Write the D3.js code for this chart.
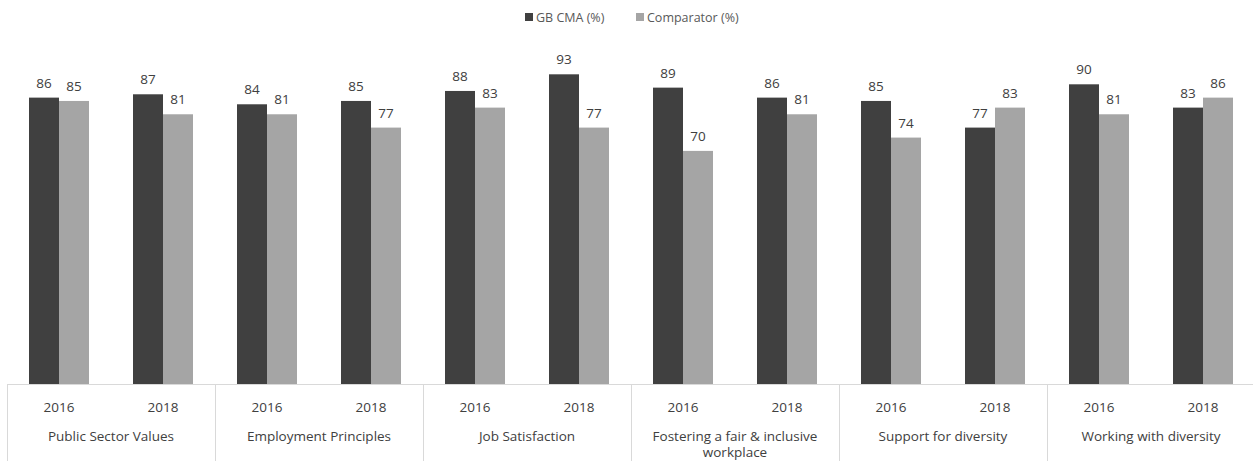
<!DOCTYPE html>
<html>
<head>
<meta charset="utf-8">
<script src="https://cdn.jsdelivr.net/npm/d3@7"></script>
<style>
  html, body { margin: 0; padding: 0; background: #fff; }
  svg { display: block; font-family: "Open Sans", "Liberation Sans", sans-serif; }
</style>
</head>
<body>
<svg id="chart" width="1253" height="461"></svg>
<script>
// Survey themes, each reported for two survey years
const themes = [
  ["Public Sector Values"],
  ["Employment Principles"],
  ["Job Satisfaction"],
  ["Fostering a fair & inclusive", "workplace"],
  ["Support for diversity"],
  ["Working with diversity"]
];
const years = ["2016", "2018"];
const seriesNames = ["GB CMA (%)", "Comparator (%)"];
// Positive response rates, theme by theme, 2016 then 2018
const gbCma      = [86, 87, 84, 85, 88, 93, 89, 86, 85, 77, 90, 83];
const comparator = [85, 81, 81, 77, 83, 77, 70, 81, 74, 83, 81, 86];
const colors = ["#404040", "#a5a5a5"];

const svg = d3.select("#chart");
const plotLeft = 7, baseY = 384, plotTop = 51;

// one slot per theme/year pair
const slots = [];
themes.forEach((t, i) => years.forEach((yr, j) => slots.push({ theme: i, year: yr, idx: i * 2 + j })));

const x = d3.scaleBand().domain(slots.map(d => d.idx)).range([plotLeft, plotLeft + 104 * 12]);
const xInner = d3.scaleBand().domain([0, 1]).range([x.bandwidth() / 2 - 30, x.bandwidth() / 2 + 30]);
const y = d3.scaleLinear().domain([0, 100]).range([baseY, plotTop]);

const series = [gbCma, comparator];

// bars
const g = svg.append("g");
slots.forEach(s => {
  series.forEach((vals, k) => {
    const v = vals[s.idx];
    const bx = x(s.idx) + xInner(k);
    g.append("rect")
      .attr("x", bx)
      .attr("y", y(v))
      .attr("width", xInner.bandwidth())
      .attr("height", y(0) - y(v))
      .attr("fill", colors[k]);
    g.append("text")
      .attr("x", bx + xInner.bandwidth() / 2)
      .attr("y", y(v) - 10)
      .attr("text-anchor", "middle")
      .attr("font-size", 13.5)
      .attr("fill", "#404040")
      .text(v);
  });
});

// category axis: baseline, dividers, year and theme labels
const axisColor = "#d9d9d9";
svg.append("line")
  .attr("x1", plotLeft).attr("x2", 1253)
  .attr("y1", baseY + 0.5).attr("y2", baseY + 0.5)
  .attr("stroke", axisColor).attr("stroke-width", 1);

const groupW = x.bandwidth() * 2;
for (let i = 0; i <= themes.length; i++) {
  const gx = Math.round(plotLeft + i * groupW) + 0.5;
  svg.append("line")
    .attr("x1", gx).attr("x2", gx)
    .attr("y1", baseY).attr("y2", 461)
    .attr("stroke", axisColor).attr("stroke-width", 1);
}

slots.forEach(s => {
  svg.append("text")
    .attr("x", x(s.idx) + x.bandwidth() / 2)
    .attr("y", 412)
    .attr("text-anchor", "middle")
    .attr("font-size", 13.5)
    .attr("fill", "#404040")
    .text(s.year);
});

themes.forEach((lines, i) => {
  const cx = plotLeft + i * groupW + groupW / 2;
  const t = svg.append("text")
    .attr("x", cx)
    .attr("y", 441)
    .attr("text-anchor", "middle")
    .attr("font-size", 13.5)
    .attr("fill", "#404040");
  lines.forEach((ln, j) => t.append("tspan")
    .attr("x", cx)
    .attr("dy", j === 0 ? 0 : 16)
    .text(ln));
});

// legend
const legend = svg.append("g").attr("transform", "translate(525,0)");
const legendX = [0, 111];
seriesNames.forEach((name, k) => {
  legend.append("rect")
    .attr("x", legendX[k]).attr("y", 13)
    .attr("width", 8).attr("height", 8)
    .attr("fill", colors[k]);
  legend.append("text")
    .attr("x", legendX[k] + 11).attr("y", 22)
    .attr("font-size", 12.5)
    .attr("fill", "#595959")
    .text(name);
});
</script>
</body>
</html>
